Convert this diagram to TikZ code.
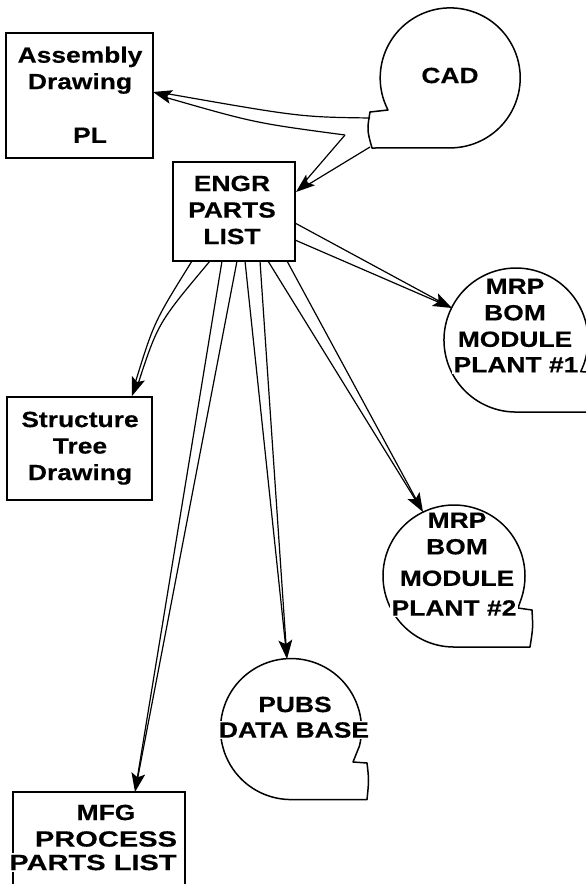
\documentclass[tikz,border=0pt]{standalone}
\usepackage{fontspec}
\newfontfamily\lbl[FakeStretch=1.2,FakeBold=0.4]{Liberation Sans Bold}
\newfontfamily\lblw[FakeStretch=1.32,FakeBold=0.4]{Liberation Sans Bold}
\usetikzlibrary{calc}
\newcommand\arrhead[2]{%
  \fill[black] (#1) -- ($(#1)!19pt!(#2)!7pt!90:(#1)$)
    .. controls ($(#1)!16pt!(#2)!2pt!90:(#1)$) .. ($(#1)!15pt!(#2)$)
    .. controls ($(#1)!16pt!(#2)!2pt!-90:(#1)$) .. ($(#1)!19pt!(#2)!7pt!-90:(#1)$)
    -- cycle;}
\newcommand\wedgearrow[3]{%
  \coordinate (wmid) at ($(#1)!0.5!(#2)$);
  \draw[conn] (#1) -- ($(#3)!13pt!(#1)$);
  \draw[conn] (#2) -- ($(#3)!13pt!(#2)$);
  \arrhead{#3}{wmid}}
\begin{document}
\begin{tikzpicture}[x=1pt,y=-1pt,
  box/.style={draw, line width=1.6pt, inner sep=0pt, outer sep=0pt},
  shp/.style={draw, line width=1.5pt, line join=round},
  conn/.style={line width=1.2pt},
  lab/.style={font=\lbl\fontsize{22}{26.5}\selectfont, align=center, inner sep=0pt, anchor=north},
  labw/.style={lab, fill=white, inner sep=1.5pt}]
\useasboundingbox (0,0) rectangle (586,884);
\clip (0,0) rectangle (586,884);
% boxes
\node[box, minimum width=147pt, minimum height=125pt] (asm) at (79.5,95.5) {};
\node[box, minimum width=122pt, minimum height=99pt] (engr) at (234,211.5) {};
\node[box, minimum width=145pt, minimum height=103pt] (struct) at (79.5,448.5) {};
\node[box, minimum width=172pt, minimum height=110pt] (mfg) at (99,847) {};
% round shapes with tabs
\draw[shp] (388,110) arc[start angle=152.7, end angle=450, radius=70]
  -- (372,148) .. controls (367,130) .. (370,112) -- cycle;
\draw[shp] (580.7,371.6) arc[start angle=26, end angle=-270, radius=72]
  -- (600,412) -- (600,373) -- cycle;
\draw[shp] (520.7,600.3) arc[start angle=20, end angle=-270, radius=71]
  -- (530,647) .. controls (533,628) .. (532,610) -- (518,608) -- cycle;
\draw[shp] (359.4,746.1) arc[start angle=14, end angle=-270, radius=70.5]
  -- (367,799.5) .. controls (369,780) .. (367,763) -- (353,762) -- cycle;
% labels
\node[lab] (tasm) at (80,46.5) {Assembly\\Drawing};
\node[lab] (tpl) at (90,127.5) {PL};
\node[lab] (tengr) at (232,175.5) {ENGR\\PARTS\\LIST};
\node[lab] (tstruct) at (80,411.5) {Structure\\Tree\\Drawing};
\node[lab] (tmfg) at (106,804.5) {MFG\\{\lblw PROCESS}};
\node[labw, font=\lblw\fontsize{22}{26.5}\selectfont] (tmfg2) at (93,853) {PARTS LIST};
\node[lab] (tcad) at (450,67.5) {CAD};
\node[lab] (tmrp1) at (515,278.5) {MRP\\BOM\\MODULE};
\node[labw] (tmrp1b) at (516,355.5) {PLANT \#1};
\node[lab] (tmrp2) at (457,512.5) {MRP\\BOM\\[5pt]MODULE};
\node[labw] (tmrp2b) at (454,598.5) {PLANT \#2};
\node[lab] (tpubs) at (295,696.5) {PUBS};
\node[labw] (tpubs2) at (294,720.5) {DATA BASE};
% connector end points
\coordinate (cadA) at (370,118);
\coordinate (split) at (345,135);
\coordinate (cadB) at (370,147);
\coordinate (asmT) at (153,92);
\coordinate (engrT) at (296,192);
\coordinate (e1a) at (192,261); \coordinate (e1b) at (210,261);
\coordinate (e2a) at (222,261); \coordinate (e2b) at (237,261);
\coordinate (e3a) at (245,261); \coordinate (e3b) at (260,261);
\coordinate (e4a) at (268,261); \coordinate (e4b) at (287,261);
\coordinate (e5a) at (295,223); \coordinate (e5b) at (295,240);
\coordinate (structT) at (132,396);
\coordinate (structRef) at (142,368);
\coordinate (mfgT) at (135,792);
\coordinate (pubsT) at (287,659);
\coordinate (mrp2T) at (423,512);
\coordinate (mrp1T) at (452,308);
\coordinate (asmRef) at (190,102);
% CAD -> Assembly (curved wedge) and CAD -> ENGR
\draw[conn] (cadA) .. controls (300,117) .. (166,93.5);
\draw[conn] (split) .. controls (255,123) .. (166,97.5);
\arrhead{asmT}{asmRef}
\wedgearrow{split}{cadB}{engrT}
% ENGR -> Structure (slightly bowed wedge)
\draw[conn] (e1a) .. controls (154,322) .. (135,383.5);
\draw[conn] (e1b) .. controls (158,323) .. (138,384);
\arrhead{structT}{structRef}
% ENGR -> others
\wedgearrow{e2a}{e2b}{mfgT}
\wedgearrow{e3a}{e3b}{pubsT}
\wedgearrow{e4a}{e4b}{mrp2T}
\wedgearrow{e5a}{e5b}{mrp1T}
\end{tikzpicture}
\end{document}
